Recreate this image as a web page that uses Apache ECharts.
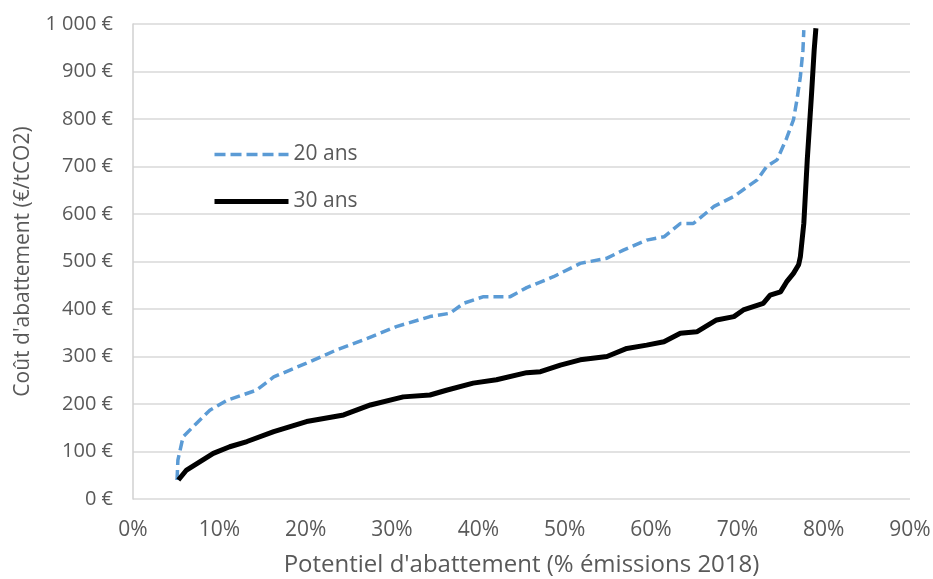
<!DOCTYPE html>
<html>
<head>
<meta charset="utf-8">
<script src="https://cdn.jsdelivr.net/npm/echarts@6/dist/echarts.min.js"></script>
<style>
  html, body { margin: 0; padding: 0; background: #fff; }
  #chart { width: 933px; height: 579px; }
</style>
</head>
<body>
<div id="chart"></div>
<script>
// Potentiel d'abattement (% émissions 2018) and coût (€/tCO2)
const x20 = [5.1, 5.2, 5.8, 7.4, 8.9, 10.9, 14.3, 16.3, 20.1, 23.6, 26.7, 30.5, 34.4, 36.7, 38.3, 40.6, 43.7, 45.6, 48.7, 51.8, 54.9, 56.8, 59.5, 61.5, 63.4, 64.9, 67.3, 69.6, 72.3, 73.4, 74.6, 75.7, 76.5, 76.9, 77.3, 77.6, 77.7];
const y20 = [40, 82, 131, 160, 187, 208, 229, 257, 286, 314, 335, 363, 384, 391, 412, 426, 426, 445, 468, 496, 507, 524, 545, 552, 580, 580, 616, 637, 672, 700, 714, 759, 798, 840, 889, 945, 987];

const x30 = [5.25, 6.2, 9.3, 11.2, 13.2, 16.3, 20.1, 24.4, 27.5, 31.3, 34.4, 36.3, 39.4, 42.1, 45.6, 47.2, 49.5, 51.8, 54.9, 57.2, 59.5, 61.5, 63.4, 65.3, 67.6, 69.6, 70.7, 73.0, 73.8, 75.0, 75.7, 76.5, 77.1, 77.3, 77.7, 78.1, 78.6, 78.9, 79.1];
const y30 = [40, 61, 96, 110, 121, 142, 163, 177, 198, 215, 219, 229, 244, 251, 266, 268, 282, 293, 300, 317, 324, 331, 349, 352, 377, 384, 398, 412, 429, 436, 457, 475, 493, 510, 580, 714, 854, 945, 991];

const seriesNames = ['20 ans', '30 ans'];

const textColor = '#595959';
const font = '"Open Sans", sans-serif';

const chart = echarts.init(document.getElementById('chart'));

chart.setOption({
  animation: false,
  grid: { left: 133, right: 23, top: 24, bottom: 80, outerBoundsMode: 'none' },
  legend: {
    data: [
      { name: seriesNames[0], lineStyle: { width: 3.5, type: [11, 5] } },
      { name: seriesNames[1], lineStyle: { width: 5 } }
    ],
    orient: 'vertical',
    left: 207,
    top: 139,
    itemWidth: 74,
    itemHeight: 20,
    itemGap: 26,
    itemStyle: { opacity: 0 },
    textStyle: { color: textColor, fontSize: 21, fontFamily: font }
  },
  xAxis: {
    type: 'value',
    min: 0,
    max: 90,
    interval: 10,
    name: "Potentiel d'abattement (% émissions 2018)",
    nameLocation: 'middle',
    nameGap: 54,
    nameTextStyle: { color: textColor, fontSize: 24, fontFamily: font },
    axisLine: { show: false },
    axisTick: { show: false },
    splitLine: { show: false },
    axisLabel: { formatter: '{value}%', color: textColor, fontSize: 21, fontFamily: font, margin: 21 }
  },
  yAxis: {
    type: 'value',
    min: 0,
    max: 1000,
    interval: 100,
    name: "Coût d'abattement (€/tCO2)",
    nameLocation: 'middle',
    nameGap: 99,
    nameTextStyle: { color: textColor, fontSize: 21, fontFamily: font },
    axisLine: { show: true, lineStyle: { color: '#d0d0d0', width: 1.5 } },
    axisTick: { show: false },
    splitLine: { lineStyle: { color: '#d9d9d9', width: 1.5 } },
    axisLabel: {
      color: textColor, fontSize: 20, fontFamily: font, margin: 20,
      formatter: v => (v >= 1000 ? Math.floor(v / 1000) + '\u00a0' + String(v % 1000).padStart(3, '0') : v) + '\u00a0€'
    }
  },
  series: [
    {
      name: seriesNames[0],
      type: 'line',
      data: x20.map((x, i) => [x, y20[i]]),
      showSymbol: false,
      symbol: 'none',
      color: '#5b9bd5',
      lineStyle: { color: '#5b9bd5', width: 3.5, type: [10, 5] }
    },
    {
      name: seriesNames[1],
      type: 'line',
      data: x30.map((x, i) => [x, y30[i]]),
      showSymbol: false,
      symbol: 'none',
      color: '#000',
      lineStyle: { color: '#000', width: 5 }
    }
  ]
});
</script>
</body>
</html>
